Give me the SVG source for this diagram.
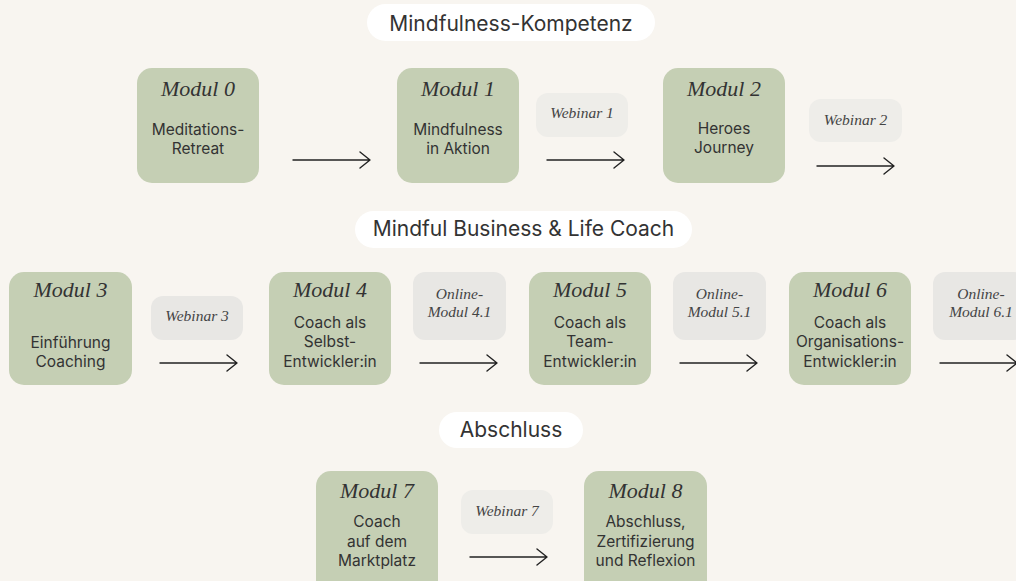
<svg xmlns="http://www.w3.org/2000/svg" width="1016" height="581" viewBox="0 0 1016 581">
<defs>
<style>
.bg{fill:#f8f5f0}
.pill{fill:#ffffff}
.mod{fill:#c5cfb4}
.web{fill:#eeede9}
.web2{fill:#e8e7e4}
.ptxt{font-family:Inter,"Noto Sans",sans-serif;font-size:21px;fill:#333333;text-anchor:middle}
.mt{font-family:"Liberation Serif",serif;font-style:italic;font-size:22px;fill:#333333;text-anchor:middle}
.mb{font-family:Inter,"Noto Sans",sans-serif;font-size:15.5px;fill:#333333;text-anchor:middle}
.wt{font-family:"Liberation Serif",serif;font-style:italic;font-size:15.5px;fill:#444444;text-anchor:middle}
.arr{fill:none;stroke:#222222;stroke-width:1.4;stroke-linecap:round;stroke-linejoin:round}
</style>
</defs>
<rect class="bg" x="0" y="0" width="1016" height="581"/>

<g id="section1">
<rect class="pill" x="367" y="4" width="288" height="37" rx="18.5"/>
<text class="ptxt" x="511" y="31">Mindfulness-Kompetenz</text>
</g>
<g id="section2">
<rect class="pill" x="355" y="211" width="337" height="37" rx="18.5"/>
<text class="ptxt" x="523.5" y="236">Mindful Business &amp; Life Coach</text>
</g>
<g id="section3">
<rect class="pill" x="439" y="412" width="144" height="36" rx="18"/>
<text class="ptxt" x="511" y="437">Abschluss</text>
</g>

<g id="modul0">
<rect class="mod" x="137" y="68" width="122" height="115" rx="15"/>
<text class="mt" x="198" y="96">Modul 0</text>
<text class="mb" x="198" y="135">Meditations-</text>
<text class="mb" x="198" y="154">Retreat</text>
</g>
<g id="modul1">
<rect class="mod" x="397" y="68" width="122" height="115" rx="15"/>
<text class="mt" x="458" y="96">Modul 1</text>
<text class="mb" x="458" y="135">Mindfulness</text>
<text class="mb" x="458" y="154">in Aktion</text>
</g>
<g id="webinar1">
<rect class="web" x="536" y="93" width="92" height="44" rx="12"/>
<text class="wt" x="582" y="118">Webinar 1</text>
</g>
<g id="modul2">
<rect class="mod" x="663" y="68" width="122" height="115" rx="15"/>
<text class="mt" x="724" y="96">Modul 2</text>
<text class="mb" x="724" y="134">Heroes</text>
<text class="mb" x="724" y="153">Journey</text>
</g>
<g id="webinar2">
<rect class="web" x="809" y="99" width="93" height="43" rx="12"/>
<text class="wt" x="855.5" y="125">Webinar 2</text>
</g>

<g id="modul3">
<rect class="mod" x="9" y="272" width="123" height="113" rx="15"/>
<text class="mt" x="70.5" y="297">Modul 3</text>
<text class="mb" x="70.5" y="348">Einführung</text>
<text class="mb" x="70.5" y="367">Coaching</text>
</g>
<g id="webinar3">
<rect class="web2" x="151" y="296" width="92" height="44" rx="12"/>
<text class="wt" x="197" y="321">Webinar 3</text>
</g>
<g id="modul4">
<rect class="mod" x="269" y="272" width="122" height="113" rx="15"/>
<text class="mt" x="330" y="297">Modul 4</text>
<text class="mb" x="330" y="328">Coach als</text>
<text class="mb" x="330" y="347">Selbst-</text>
<text class="mb" x="330" y="367">Entwickler:in</text>
</g>
<g id="online41">
<rect class="web2" x="413" y="272" width="93" height="68" rx="12"/>
<text class="wt" x="459.5" y="299">Online-</text>
<text class="wt" x="459.5" y="317">Modul 4.1</text>
</g>
<g id="modul5">
<rect class="mod" x="529" y="272" width="122" height="113" rx="15"/>
<text class="mt" x="590" y="297">Modul 5</text>
<text class="mb" x="590" y="328">Coach als</text>
<text class="mb" x="590" y="347">Team-</text>
<text class="mb" x="590" y="367">Entwickler:in</text>
</g>
<g id="online51">
<rect class="web2" x="673" y="272" width="93" height="68" rx="12"/>
<text class="wt" x="719.5" y="299">Online-</text>
<text class="wt" x="719.5" y="317">Modul 5.1</text>
</g>
<g id="modul6">
<rect class="mod" x="789" y="272" width="122" height="113" rx="15"/>
<text class="mt" x="850" y="297">Modul 6</text>
<text class="mb" x="850" y="328">Coach als</text>
<text class="mb" x="850" y="347">Organisations-</text>
<text class="mb" x="850" y="367">Entwickler:in</text>
</g>
<g id="online61">
<rect class="web2" x="933" y="272" width="93" height="68" rx="12"/>
<text class="wt" x="981" y="299">Online-</text>
<text class="wt" x="981" y="317">Modul 6.1</text>
</g>

<g id="modul7">
<rect class="mod" x="316" y="471" width="122" height="125" rx="15"/>
<text class="mt" x="377" y="498">Modul 7</text>
<text class="mb" x="377" y="527">Coach</text>
<text class="mb" x="377" y="547">auf dem</text>
<text class="mb" x="377" y="566">Marktplatz</text>
</g>
<g id="webinar7">
<rect class="web" x="461" y="490" width="92" height="44" rx="12"/>
<text class="wt" x="507" y="516">Webinar 7</text>
</g>
<g id="modul8">
<rect class="mod" x="584" y="471" width="123" height="125" rx="15"/>
<text class="mt" x="645.5" y="498">Modul 8</text>
<text class="mb" x="645.5" y="527">Abschluss,</text>
<text class="mb" x="645.5" y="547">Zertifizierung</text>
<text class="mb" x="645.5" y="566">und Reflexion</text>
</g>

<g id="connectors">
<path class="arr" d="M293 160H370M360 152L370 160L360 168"/>
<path class="arr" d="M547 160H624M614 152L624 160L614 168"/>
<path class="arr" d="M817 166H894M884 158L894 166L884 174"/>
<path class="arr" d="M160 363H237M227 355L237 363L227 371"/>
<path class="arr" d="M420 363H497M487 355L497 363L487 371"/>
<path class="arr" d="M680 363H757M747 355L757 363L747 371"/>
<path class="arr" d="M940 363H1017M1007 355L1017 363L1007 371"/>
<path class="arr" d="M470 557H547M537 549L547 557L537 565"/>
</g>
</svg>
